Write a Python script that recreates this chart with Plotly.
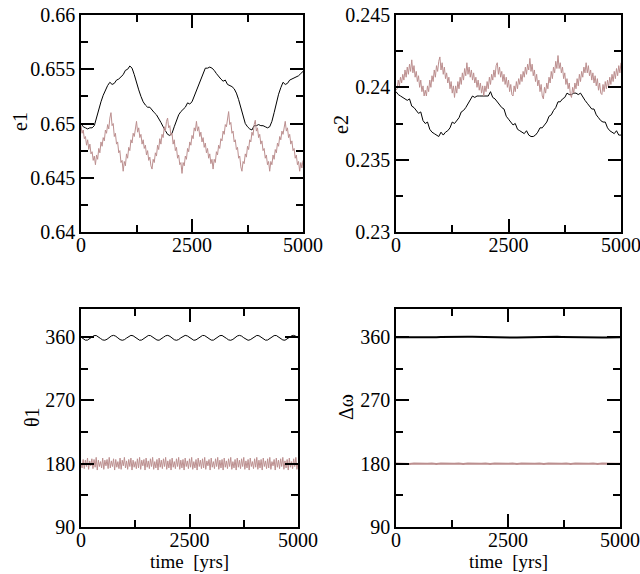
import plotly.graph_objects as go

FONT = "Liberation Serif"
BLACK = "#000000"
ROSY = "#bc8f8f"

# time grids (yrs)
t25 = list(range(0, 5001, 25))
t50 = list(range(0, 5001, 50))
t100 = list(range(0, 5001, 100))

# ---- e1 ----
e1_black = [
    0.6500, 0.6497, 0.6496, 0.6495, 0.6496, 0.6496, 0.6498, 0.6506, 0.6514, 0.6520,
    0.6526, 0.6531, 0.6535, 0.6538, 0.6536, 0.6537, 0.6540, 0.6541, 0.6543, 0.6545,
    0.6549, 0.6550, 0.6553, 0.6551, 0.6545, 0.6537, 0.6531, 0.6525, 0.6520, 0.6517,
    0.6515, 0.6515, 0.6512, 0.6510, 0.6508, 0.6505, 0.6501, 0.6497, 0.6493, 0.6490,
    0.6489, 0.6491, 0.6497, 0.6503, 0.6508, 0.6511, 0.6513, 0.6515, 0.6519, 0.6518,
    0.6520, 0.6525, 0.6530, 0.6535, 0.6540, 0.6545, 0.6551, 0.6551, 0.6552, 0.6551,
    0.6549, 0.6546, 0.6543, 0.6541, 0.6539, 0.6540, 0.6536, 0.6535, 0.6534, 0.6532,
    0.6528, 0.6522, 0.6514, 0.6506, 0.6500, 0.6497, 0.6495, 0.6494, 0.6498, 0.6498,
    0.6499, 0.6498, 0.6498, 0.6497, 0.6496, 0.6497, 0.6502, 0.6510, 0.6519, 0.6527,
    0.6533, 0.6538, 0.6536, 0.6537, 0.6540, 0.6541, 0.6542, 0.6543, 0.6544, 0.6546,
    0.6548,
]
e1_rosy = [
    0.6498, 0.6491, 0.6494, 0.6486, 0.6488, 0.6480, 0.6485, 0.6476, 0.6481, 0.6472,
    0.6474, 0.6466, 0.6470, 0.6462, 0.6471, 0.6467, 0.6477, 0.6473, 0.6483, 0.6479,
    0.6487, 0.6484, 0.6494, 0.6491, 0.6499, 0.6495, 0.6505, 0.6510, 0.6498, 0.6500,
    0.6488, 0.6491, 0.6481, 0.6483, 0.6473, 0.6475, 0.6464, 0.6466, 0.6456, 0.6465,
    0.6461, 0.6472, 0.6468, 0.6478, 0.6475, 0.6485, 0.6482, 0.6491, 0.6488, 0.6498,
    0.6502, 0.6492, 0.6496, 0.6487, 0.6490, 0.6481, 0.6485, 0.6477, 0.6480, 0.6471,
    0.6475, 0.6466, 0.6469, 0.6461, 0.6458, 0.6467, 0.6464, 0.6473, 0.6470, 0.6480,
    0.6476, 0.6486, 0.6481, 0.6490, 0.6487, 0.6497, 0.6493, 0.6502, 0.6505, 0.6496,
    0.6498, 0.6489, 0.6491, 0.6481, 0.6485, 0.6475, 0.6478, 0.6468, 0.6471, 0.6462,
    0.6464, 0.6454, 0.6464, 0.6461, 0.6470, 0.6467, 0.6477, 0.6474, 0.6483, 0.6480,
    0.6489, 0.6486, 0.6496, 0.6493, 0.6502, 0.6493, 0.6497, 0.6488, 0.6492, 0.6483,
    0.6487, 0.6478, 0.6482, 0.6473, 0.6477, 0.6468, 0.6472, 0.6463, 0.6467, 0.6458,
    0.6467, 0.6464, 0.6474, 0.6471, 0.6480, 0.6477, 0.6486, 0.6484, 0.6493, 0.6490,
    0.6499, 0.6497, 0.6506, 0.6511, 0.6499, 0.6501, 0.6491, 0.6493, 0.6483, 0.6485,
    0.6476, 0.6478, 0.6468, 0.6470, 0.6460, 0.6456, 0.6465, 0.6463, 0.6472, 0.6469,
    0.6479, 0.6476, 0.6485, 0.6483, 0.6492, 0.6489, 0.6499, 0.6503, 0.6493, 0.6496,
    0.6487, 0.6490, 0.6481, 0.6484, 0.6475, 0.6477, 0.6468, 0.6471, 0.6462, 0.6465,
    0.6456, 0.6465, 0.6462, 0.6471, 0.6467, 0.6476, 0.6473, 0.6482, 0.6479, 0.6488,
    0.6485, 0.6493, 0.6490, 0.6499, 0.6502, 0.6493, 0.6496, 0.6487, 0.6490, 0.6481,
    0.6484, 0.6475, 0.6477, 0.6468, 0.6471, 0.6462, 0.6465, 0.6456, 0.6464, 0.6459,
    0.6466,
]

# ---- e2 ----
e2_black = [
    0.2397, 0.2395, 0.2394, 0.2393, 0.2392, 0.2391, 0.2392, 0.2387, 0.2386, 0.2384,
    0.2382, 0.2383, 0.2377, 0.2375, 0.2376, 0.2371, 0.2369, 0.2368, 0.2367, 0.2366,
    0.2369, 0.2367, 0.2369, 0.2370, 0.2372, 0.2376, 0.2375, 0.2377, 0.2379, 0.2383,
    0.2384, 0.2386, 0.2389, 0.2391, 0.2394, 0.2393, 0.2394, 0.2394, 0.2394, 0.2394,
    0.2394, 0.2394, 0.2397, 0.2393, 0.2392, 0.2390, 0.2388, 0.2386, 0.2385, 0.2380,
    0.2378, 0.2376, 0.2374, 0.2375, 0.2371, 0.2370, 0.2369, 0.2368, 0.2370, 0.2367,
    0.2366, 0.2366, 0.2367, 0.2369, 0.2372, 0.2372, 0.2374, 0.2376, 0.2380, 0.2381,
    0.2384, 0.2386, 0.2390, 0.2390, 0.2392, 0.2393, 0.2396, 0.2395, 0.2395, 0.2396,
    0.2396, 0.2395, 0.2396, 0.2393, 0.2391, 0.2389, 0.2387, 0.2385, 0.2385, 0.2381,
    0.2379, 0.2377, 0.2376, 0.2376, 0.2372, 0.2370, 0.2369, 0.2368, 0.2370, 0.2367,
    0.2367,
]
e2_rosy = [
    0.2398, 0.2399, 0.2405, 0.2401, 0.2407, 0.2403, 0.2409, 0.2405, 0.2412, 0.2407,
    0.2414, 0.2409, 0.2416, 0.2411, 0.2419, 0.2410, 0.2415, 0.2407, 0.2411, 0.2404,
    0.2408, 0.2400, 0.2405, 0.2397, 0.2401, 0.2394, 0.2398, 0.2394, 0.2401, 0.2397,
    0.2405, 0.2400, 0.2408, 0.2404, 0.2412, 0.2407, 0.2415, 0.2411, 0.2418, 0.2421,
    0.2412, 0.2417, 0.2409, 0.2414, 0.2406, 0.2410, 0.2403, 0.2407, 0.2399, 0.2404,
    0.2396, 0.2401, 0.2393, 0.2401, 0.2396, 0.2404, 0.2399, 0.2407, 0.2402, 0.2410,
    0.2405, 0.2413, 0.2408, 0.2417, 0.2409, 0.2414, 0.2407, 0.2412, 0.2405, 0.2410,
    0.2403, 0.2407, 0.2400, 0.2405, 0.2398, 0.2403, 0.2396, 0.2401, 0.2394, 0.2401,
    0.2397, 0.2404, 0.2399, 0.2407, 0.2402, 0.2409, 0.2405, 0.2412, 0.2407, 0.2415,
    0.2417, 0.2409, 0.2414, 0.2407, 0.2411, 0.2404, 0.2409, 0.2402, 0.2407, 0.2400,
    0.2405, 0.2397, 0.2402, 0.2395, 0.2394, 0.2401, 0.2397, 0.2404, 0.2399, 0.2406,
    0.2402, 0.2409, 0.2404, 0.2411, 0.2407, 0.2414, 0.2409, 0.2416, 0.2412, 0.2420,
    0.2411, 0.2416, 0.2408, 0.2412, 0.2404, 0.2409, 0.2401, 0.2405, 0.2397, 0.2402,
    0.2394, 0.2392, 0.2400, 0.2396, 0.2403, 0.2399, 0.2407, 0.2403, 0.2411, 0.2406,
    0.2414, 0.2410, 0.2418, 0.2413, 0.2422, 0.2413, 0.2417, 0.2410, 0.2414, 0.2406,
    0.2410, 0.2402, 0.2406, 0.2399, 0.2403, 0.2395, 0.2393, 0.2400, 0.2396, 0.2403,
    0.2399, 0.2406, 0.2401, 0.2409, 0.2404, 0.2411, 0.2407, 0.2414, 0.2410, 0.2417,
    0.2410, 0.2415, 0.2408, 0.2412, 0.2405, 0.2410, 0.2403, 0.2408, 0.2401, 0.2406,
    0.2398, 0.2403, 0.2396, 0.2395, 0.2402, 0.2397, 0.2404, 0.2399, 0.2405, 0.2400,
    0.2407, 0.2402, 0.2409, 0.2404, 0.2411, 0.2406, 0.2413, 0.2408, 0.2415, 0.2410,
    0.2417,
]

# ---- theta1 (deg) ----
th1_black = [
    360.0, 357.4, 355.7, 355.8, 357.6, 360.2, 362.1, 362.3, 360.7, 358.1,
    356.0, 355.6, 357.0, 359.5, 361.7, 362.5, 361.3, 358.9, 356.5, 355.5,
    356.4, 358.7, 361.2, 362.5, 361.9, 359.7, 357.1, 355.6, 355.9, 357.9,
    360.5, 362.3, 362.2, 360.4, 357.8, 355.9, 355.6, 357.2, 359.8, 361.9,
    362.5, 361.1, 358.6, 356.3, 355.5, 356.6, 359.0, 361.4, 362.5, 361.7,
    359.4, 356.9, 355.5, 356.1, 358.2, 360.8, 362.4, 362.1, 360.1, 357.6,
    355.8, 355.7, 357.5, 360.1, 362.1, 362.4, 360.8, 358.3, 356.1, 355.5,
    356.8, 359.3, 361.6, 362.5, 361.5, 359.1, 356.7, 355.5, 356.3, 358.5,
    361.0, 362.4, 362.0, 359.9, 357.3, 355.7, 355.9, 357.8, 360.4, 362.2,
    362.3, 360.6, 358.0, 356.0, 355.6, 357.1, 359.6, 361.8, 362.5, 361.2,
    358.8,
]
th1_rosy = [
    180, 174, 186, 173, 185, 176, 188, 172, 184, 177,
    187, 173, 186, 175, 189, 171, 185, 176, 183, 174,
    188, 172, 185, 177, 186, 173, 189, 174, 184, 176,
    187, 171, 186, 175, 183, 173, 188, 172, 185, 177,
    189, 174, 184, 172, 186, 176, 188, 171, 185, 175,
    183, 173, 187, 174, 189, 172, 185, 177, 186, 171,
    188, 175, 184, 173, 187, 176, 189, 172, 183, 174,
    186, 171, 188, 175, 185, 173, 187, 176, 189, 172,
    184, 174, 186, 171, 188, 175, 183, 173, 187, 176,
    189, 172, 185, 174, 186, 171, 188, 176, 184, 173,
    187, 175, 189, 172, 183, 174, 186, 171, 188, 176,
    185, 173, 187, 174, 189, 172, 184, 177, 186, 171,
    188, 175, 183, 173, 187, 176, 189, 172, 185, 174,
    186, 171, 188, 175, 184, 173, 187, 176, 189, 172,
    183, 174, 186, 171, 188, 175, 185, 173, 187, 176,
    189, 172, 184, 174, 186, 171, 188, 176, 183, 173,
    187, 175, 189, 172, 185, 174, 186, 171, 188, 176,
    184, 173, 187, 174, 189, 172, 183, 177, 186, 171,
    188, 175, 185, 173, 187, 176, 189, 172, 184, 174,
    186, 171, 188, 175, 183, 173, 187, 176, 189, 172,
    181,
]

# ---- delta omega (deg) ----
dw_black = [
    360.0, 359.9, 359.7, 359.5, 359.4, 359.4, 359.4, 359.5, 359.7, 359.9,
    360.1, 360.3, 360.5, 360.6, 360.6, 360.6, 360.5, 360.4, 360.2, 360.0,
    359.8, 359.6, 359.4, 359.3, 359.3, 359.3, 359.4, 359.6, 359.8, 360.0,
    360.2, 360.4, 360.5, 360.6, 360.6, 360.6, 360.5, 360.3, 360.1, 359.9,
    359.7, 359.5, 359.4, 359.3, 359.3, 359.4, 359.5, 359.6, 359.8, 359.9,
    360.0,
]
dw_rosy = [
    180.2, 179.8, 180.3, 179.7, 180.2, 179.8, 180.3, 179.8, 180.2, 179.7,
    180.3, 179.8, 180.2, 179.8, 180.3, 179.7, 180.2, 179.8, 180.3, 179.8,
    180.2, 179.7, 180.3, 179.8, 180.2, 179.8, 180.3, 179.7, 180.2, 179.8,
    180.3, 179.8, 180.2, 179.7, 180.3, 179.8, 180.2, 179.8, 180.3, 179.7,
    180.2, 179.8, 180.3, 179.8, 180.2, 179.7, 180.3, 179.8, 180.2, 179.8,
    180.0,
]

fig = go.Figure()

def add(x, y, color, xa, ya, width=1.0):
    fig.add_trace(go.Scatter(x=x, y=y, mode="lines", xaxis=xa, yaxis=ya,
                             line=dict(color=color, width=width),
                             hoverinfo="skip", showlegend=False))

add(t50, e1_black, BLACK, "x", "y")
add(t25, e1_rosy, ROSY, "x", "y")
add(t50, e2_black, BLACK, "x2", "y2")
add(t25, e2_rosy, ROSY, "x2", "y2")
add(t50, th1_black, BLACK, "x3", "y3")
add(t25, th1_rosy, ROSY, "x3", "y3")
add(t100, dw_black, BLACK, "x4", "y4", 2)
add(t100, dw_rosy, ROSY, "x4", "y4", 2)

# figure fills the whole 640x574 window (body margin removed below)
W, H = 640, 574

def px_x(p):
    return p / W

def px_y(p):
    return 1 - p / H

def dom_x(a, b):
    return [px_x(a), px_x(b)]

def dom_y(top, bottom):
    return [px_y(bottom), px_y(top)]

def axis(domain, rng, dtick, mdtick, anchor, standoff=0):
    return dict(
        domain=domain, range=rng, dtick=dtick, tick0=rng[0], anchor=anchor,
        automargin=False, ticklabeloverflow="allow", ticklabelstandoff=standoff,
        showline=True, linecolor="black", linewidth=1.5, mirror="allticks",
        ticks="inside", ticklen=13, tickwidth=1.5, tickcolor="black",
        showgrid=False, zeroline=False,
        tickfont=dict(family=FONT, size=20, color="black"),
        minor=dict(ticks="inside", ticklen=7, tickwidth=1.5, tickcolor="black",
                   dtick=mdtick, showgrid=False),
    )

fig.update_layout(
    template="none",
    width=W, height=H,
    margin=dict(l=0, r=0, t=0, b=0, pad=0),
    paper_bgcolor="white", plot_bgcolor="white",
    showlegend=False,
    font=dict(family=FONT, size=20, color="black"),
    xaxis=axis(dom_x(81, 303), [0, 5000], 2500, 1250, "y", -6),
    yaxis=axis(dom_y(15, 232), [0.64, 0.66], 0.005, 0.0025, "x"),
    xaxis2=axis(dom_x(396, 621), [0, 5000], 2500, 1250, "y2", -6),
    yaxis2=axis(dom_y(15, 232), [0.23, 0.245], 0.005, 0.0025, "x2"),
    xaxis3=axis(dom_x(81, 298), [0, 5000], 2500, 1250, "y3", -6),
    yaxis3=axis(dom_y(309, 527), [90, 400], 90, 45, "x3"),
    xaxis4=axis(dom_x(396, 620), [0, 5000], 2500, 1250, "y4", -6),
    yaxis4=axis(dom_y(309, 527), [90, 400], 90, 45, "x4"),
)

def label(text, px, py, angle=0, size=20):
    fig.add_annotation(text=text, x=px_x(px), y=px_y(py), xref="paper", yref="paper",
                       showarrow=False, textangle=angle, xanchor="center", yanchor="middle",
                       font=dict(family=FONT, size=size, color="black"))

label("e1", 20, 122, -90)
label("e2", 341, 125, -90)
label("θ1", 32, 417, -90)
label("Δω", 346, 407, -90)
label("time\u00a0 [yrs]", 189, 561, 0, 19)
label("time\u00a0 [yrs]", 508, 561, 0, 19)

fig.write_html(
    "out.html",
    config={"displayModeBar": False},
    post_script="document.body.style.margin='0';document.body.style.overflow='hidden';",
)
